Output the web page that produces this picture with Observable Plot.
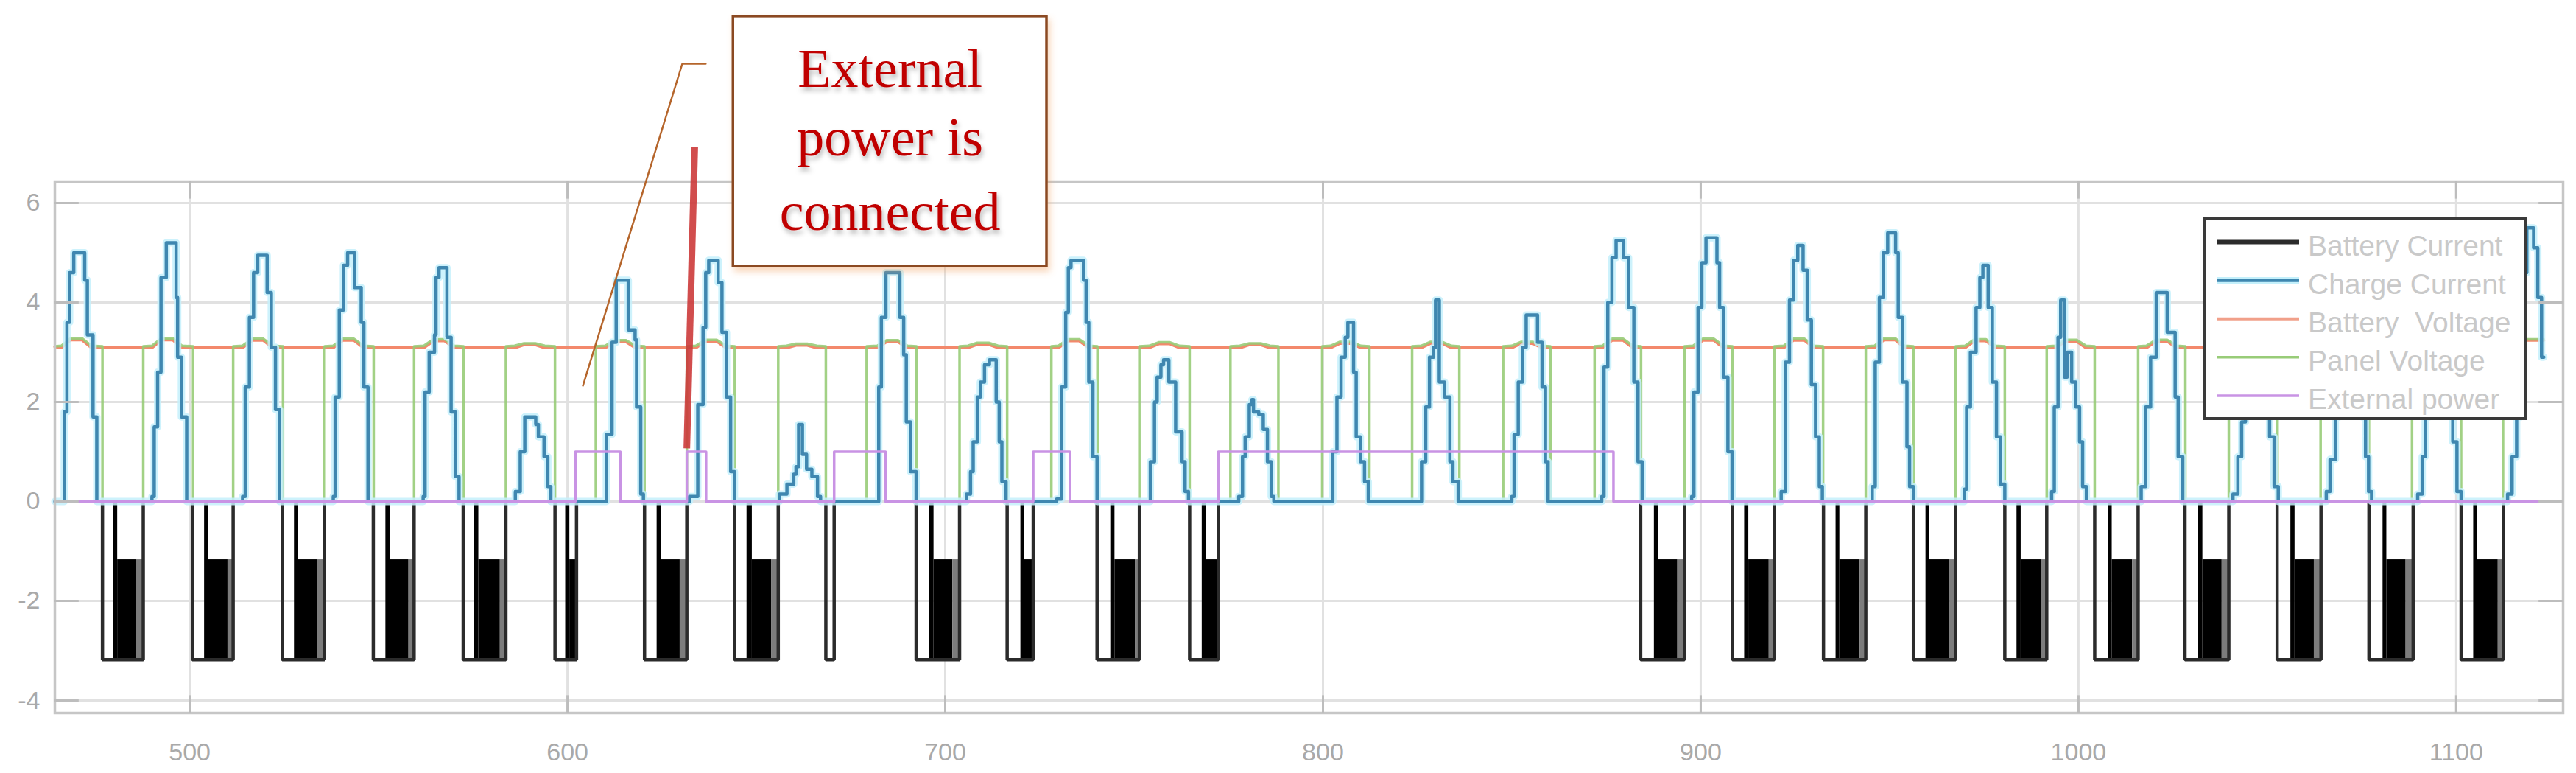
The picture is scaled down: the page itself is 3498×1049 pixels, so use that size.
<!DOCTYPE html>
<html>
<head>
<meta charset="utf-8">
<script src="https://cdn.jsdelivr.net/npm/d3@7"></script>
<script src="https://cdn.jsdelivr.net/npm/@observablehq/plot@0.6"></script>
<style>
  html, body { margin: 0; padding: 0; background: #fff; }
  #chart svg { display: block; }
</style>
</head>
<body>
<div id="chart"></div>
<script>
// ---------------- DATA (hours on x, values on y) ----------------
const xTicks = [500, 600, 700, 800, 900, 1000, 1100];
const yTicks = [-4, -2, 0, 2, 4, 6];
const seriesNames = ["Battery Current", "Charge Current", "Battery  Voltage", "Panel Voltage", "External power"];
const timeStart = 464.3;
const timeEnd = 1123.2;

// Charge current: per day, [hour, value] step points
const chargeCurrentDays = [
  [[466.8,1.8],[467.5,3.6],[468.2,4.6],[469.3,5.0],[472.2,4.45],[472.9,3.35],[474.4,1.7],[475.4,0]],
  [[490.0,0.1],[490.6,1.5],[491.5,2.6],[492.4,4.5],[493.8,5.2],[496.4,4.1],[496.8,2.9],[497.8,1.7],[499.2,0]],
  [[514.0,0.1],[514.7,2.3],[515.8,3.7],[516.9,4.6],[518.0,4.95],[520.5,4.2],[521.6,3.1],[522.7,1.85],[523.8,0]],
  [[538.0,0.1],[538.5,2.1],[539.6,3.85],[540.7,4.75],[541.8,5.0],[543.6,4.3],[545.4,3.6],[546.1,2.3],[547.2,0]],
  [[561.8,0.1],[562.3,2.2],[563.4,3.0],[564.8,3.35],[565.2,4.5],[566.0,4.7],[568.1,3.3],[569.2,1.8],[570.3,0.5],[571.3,0]],
  [[586.2,0.2],[587.5,1.0],[588.7,1.7],[591.6,1.55],[592.3,1.3],[593.8,0.9],[594.8,0.3],[595.6,0]],
  [[610.3,1.35],[611.8,3.2],[612.9,4.45],[616.1,3.45],[617.9,3.25],[618.3,1.9],[619.4,0.15],[620.1,0]],
  [[632.3,0.1],[634.5,1.95],[635.9,3.5],[636.6,4.6],[637.4,4.85],[639.9,4.4],[640.9,3.4],[642.1,2.1],[643.2,0.6],[644.2,0]],
  [[656.1,0.15],[658.1,0.35],[659.9,0.55],[660.5,0.7],[661.2,1.55],[662.2,0.95],[663.3,0.65],[664.7,0.5],[666.2,0.1],[667.0,0]],
  [[682.4,2.3],[683.1,3.7],[684.3,4.6],[688.0,3.7],[689.0,2.95],[689.7,1.6],[690.8,0.6],[692.3,0]],
  [[705.6,0.15],[706.7,0.6],[707.4,1.2],[708.5,2.1],[709.3,2.4],[710.4,2.75],[711.7,2.85],[713.5,2.0],[714.3,1.2],[715.0,0.4],[716.1,0]],
  [[729.5,0.05],[730.8,2.3],[731.9,3.8],[732.6,4.7],[733.3,4.85],[736.6,4.45],[737.3,3.6],[738.0,2.4],[739.1,0.9],[740.2,0]],
  [[754.3,0.8],[755.4,2.0],[756.1,2.5],[757.1,2.75],[757.8,2.85],[759.2,2.4],[761.0,1.4],[762.7,0.8],[763.5,0.2],[764.4,0]],
  [[777.7,0.1],[778.7,0.9],[779.4,1.3],[780.5,1.95],[781.2,2.05],[781.6,1.8],[783.0,1.75],[784.2,1.45],[785.3,0.8],[786.3,0.1],[787.0,0]],
  [[802.6,1.0],[803.7,2.1],[804.8,2.9],[805.9,3.3],[806.6,3.6],[808.1,2.6],[808.8,1.3],[809.9,0.8],[811.0,0.4],[812.0,0]],
  [[826.1,0.8],[827.2,1.9],[828.2,2.9],[829.3,3.1],[829.8,4.05],[830.8,2.4],[832.2,2.1],[833.6,0.8],[834.4,0.4],[835.8,0]],
  [[850.0,0.1],[850.6,1.35],[851.7,2.4],[852.8,3.1],[853.8,3.75],[856.8,3.2],[858.0,2.3],[858.9,0.8],[859.6,0]],
  [[873.8,0.1],[874.4,2.7],[875.4,4.0],[876.5,4.9],[877.6,5.25],[879.6,4.9],[880.9,3.9],[882.3,2.4],[883.4,0.8],[884.5,0]],
  [[897.6,0.1],[898.2,2.2],[899.3,3.9],[900.3,4.8],[901.4,5.3],[904.3,4.8],[905.0,3.9],[906.0,2.5],[907.2,1.0],[908.3,0]],
  [[921.3,0.2],[922.4,2.8],[923.5,4.05],[924.6,4.85],[925.7,5.15],[927.1,4.65],[928.2,3.65],[929.3,2.35],[930.4,1.3],[931.4,0.3],[932.2,0]],
  [[945.4,0.3],[946.2,2.8],[947.3,4.1],[948.4,5.0],[949.5,5.4],[951.6,5.0],[952.3,3.7],[953.4,2.4],[954.6,1.1],[955.3,0.3],[956.3,0]],
  [[969.8,0.25],[970.4,1.9],[971.4,3.0],[972.9,3.9],[973.9,4.5],[974.7,4.75],[976.1,3.9],[977.2,2.4],[978.3,1.3],[979.4,0.35],[980.5,0]],
  [[992.9,0.2],[993.6,1.9],[994.6,3.3],[995.3,4.05],[996.3,2.5],[997.0,3.0],[998.2,2.4],[999.3,1.9],[1000.3,1.2],[1001.1,0.3],[1002.1,0]],
  [[1016.6,0.3],[1017.8,1.9],[1019.1,2.9],[1020.6,4.2],[1023.5,3.4],[1025.6,2.1],[1026.4,0.9],[1027.6,0]],
  [[1040.9,0.15],[1042.2,0.9],[1043.2,1.6],[1044.2,3.2],[1045.3,4.5],[1046.3,4.8],[1048.2,3.8],[1049.3,2.4],[1050.6,1.3],[1051.8,0.3],[1052.9,0]],
  [[1065.6,0.2],[1066.6,0.85],[1068.0,1.7],[1069.0,3.0],[1070.0,4.2],[1071.0,4.6],[1073.2,3.8],[1074.3,2.5],[1075.1,1.7],[1076.0,0.9],[1076.8,0.2],[1077.6,0]],
  [[1089.8,0.15],[1091.0,0.9],[1091.8,1.7],[1092.8,3.2],[1093.8,4.4],[1094.8,4.9],[1097.0,4.0],[1098.0,2.6],[1099.1,1.2],[1100.2,0.2],[1101.3,0]],
  [[1113.6,0.15],[1114.8,0.9],[1116.0,1.7],[1116.9,3.2],[1117.8,4.6],[1118.7,5.5],[1120.5,5.1],[1121.6,4.1],[1122.6,2.9],[1123.2,2.9]]
];

// Panel voltage: per day [switch-on hour, switch-off hour, hump centre hour, hump top value]
const panelBase = 3.12;
const panelDays = [
  [464.3,476.9,470,3.28],[487.7,500.9,494,3.28],[511.5,524.7,518,3.27],[535.7,548.7,542,3.27],
  [559.4,572.5,566,3.26],[583.7,596.7,590,3.18],[607.5,620.4,614,3.24],[631.6,644.3,638,3.25],
  [655.8,668.4,662,3.17],[679.2,692.4,686,3.24],[703.8,716.4,710,3.19],[728.1,740.3,734,3.26],
  [751.4,764.7,758,3.20],[775.5,788.2,782,3.18],[799.8,812.3,806,3.21],[823.6,836.1,830,3.21],
  [847.7,860.2,854,3.21],[871.9,884.2,878,3.27],[895.7,908.4,902,3.27],[919.5,932.4,926,3.27],
  [943.7,956.3,950,3.28],[967.5,980.5,974,3.26],[991.6,1004.3,998,3.25],[1015.8,1028.3,1022,3.25],
  [1039.8,1052.7,1046,3.26],[1064.1,1076.9,1070,3.26],[1088.3,1101.3,1094,3.26],[1112.4,1123.2,1120,3.26]
];

// Battery voltage: night level and daily hump top
const batteryVoltageBase = 3.09;
const batteryVoltageTop = [3.25,3.25,3.24,3.24,3.23,3.15,3.21,3.22,3.14,3.21,3.16,3.23,3.17,3.15,3.18,3.18,
                           3.18,3.24,3.24,3.24,3.25,3.23,3.22,3.22,3.23,3.23,3.23,3.24];

// External power: step points [hour, value]
const externalPower = [[464.3,0],[602.1,1],[614.0,0],[631.6,1],[636.7,0],[670.6,1],[684.2,0],
                       [723.3,1],[733.0,0],[772.3,1],[876.9,0],[1122.6,0]];

// Battery current: per night [start, burst start, PWM start, PWM end, end]
const dischargeLevel = -3.18;
const pwmLevel = -1.17;
const batteryNights = [
  [476.9,479.8,480.9,485.9,487.7],[500.7,503.9,505.0,510.1,511.5],[524.5,527.7,528.8,533.9,535.7],
  [548.6,551.9,553.0,558.0,559.4],[572.4,575.4,576.5,582.2,583.7],[596.7,599.5,600.6,602.4,602.4],
  [620.4,623.7,624.8,629.8,631.6],[644.2,647.5,648.9,654.0,655.8],[668.4,null,null,null,670.6],
  [692.3,695.9,697.0,702.0,703.8],[716.4,720.0,721.0,723.3,723.3],[740.2,743.8,744.9,750.3,751.4],
  [764.7,768.0,769.1,772.3,772.3],[884.1,887.7,888.8,893.9,895.7],[908.4,911.6,912.7,918.1,919.5],
  [932.5,935.8,936.8,942.2,943.7],[956.3,959.6,960.6,966.0,967.5],[980.5,983.7,984.8,990.2,991.6],
  [1004.3,1007.9,1008.9,1014.3,1015.8],[1028.2,1031.8,1032.9,1038.0,1039.8],[1052.6,1056.2,1057.3,1062.4,1064.2],
  [1076.9,1080.6,1081.6,1086.7,1088.6],[1101.3,1104.6,1105.6,1111.1,1112.5]
];

// Annotation (data coordinates)
const annotationLines = [
  {text: "External", x: 685.4, y: 8.34},
  {text: "power is", x: 685.4, y: 6.95},
  {text: "connected", x: 685.4, y: 5.46}
];
const annotationBox = [{x1: 643.9, x2: 726.9, y1: 4.73, y2: 9.75}];
const leaderLine = [[636.6, 8.80], [630.4, 8.80], [604.1, 2.33]];
const connectMarker = [[633.7, 7.13], [631.6, 1.07]];

// ---------------- BUILD SERIES ----------------
const xDomain = [464.3, 1128.3];
const yDomain = [-4.25, 6.43];

const chargePts = [[timeStart, 0]];
chargeCurrentDays.forEach(day => day.forEach(p => chargePts.push(p)));

const panelPts = [];
panelDays.forEach(([rise, drop, c, top], i) => {
  const last = i === panelDays.length - 1;
  if (i > 0) panelPts.push([rise, 0]);
  panelPts.push([rise, panelBase]);
  [[c - 4, panelBase + 0.01], [c - 1.5, top], [c + 1.5, top], [c + 4, panelBase + 0.01]]
    .forEach(p => { if (p[0] > rise && p[0] < drop) panelPts.push(p); });
  if (!last) panelPts.push([drop, panelBase], [drop, 0]);
  else panelPts.push([drop, top]);
});

const batteryVPts = [[timeStart, batteryVoltageBase + 0.02]];
panelDays.forEach(([rise, drop, c], i) => {
  const top = batteryVoltageTop[i];
  [[c - 4, batteryVoltageBase], [c - 1.5, top], [c + 1.5, top], [c + 4, batteryVoltageBase]]
    .forEach(p => { if (p[0] > timeStart && p[0] < timeEnd) batteryVPts.push(p); });
});
batteryVPts.push([timeEnd, batteryVoltageTop[batteryVoltageTop.length - 1]]);

// battery current outline: one path per night
const batteryPts = [];
batteryNights.forEach(([d, , , , e], i) => {
  batteryPts.push({t: d, v: 0, n: i}, {t: d, v: dischargeLevel, n: i}, {t: e, v: dischargeLevel, n: i}, {t: e, v: 0, n: i});
});

const bursts = batteryNights.filter(n => n[1] != null).map(n => ({x1: n[1], x2: n[2], y1: 0, y2: dischargeLevel}));
const pwmBlocks = batteryNights.filter(n => n[1] != null).map(n => ({x1: n[2], x2: n[3], y1: pwmLevel, y2: dischargeLevel}));
const pwmTails = batteryNights.filter(n => n[1] != null && n[4] > n[3]).map(n => ({x1: n[3], x2: n[4], y1: pwmLevel, y2: dischargeLevel}));

const colors = {
  battery: "#2b2b2b",
  charge: "#3f87b0",
  chargeHalo: "#c4f0fb",
  bvolt: "#f3896c",
  panel: "#98cc78",
  ext: "#c993e4"
};

const X = d => d[0], Y = d => d[1];

const chart = Plot.plot({
  width: 3498,
  height: 1049,
  marginLeft: 74,
  marginRight: 18,
  marginTop: 246,
  marginBottom: 82,
  style: {fontFamily: "Liberation Sans, Arial, sans-serif", fontSize: "34px", color: "#a9a9a9", background: "#fff", overflow: "visible"},
  x: {domain: xDomain, ticks: xTicks, tickSize: 0, tickPadding: 40, tickFormat: d => String(d), label: null},
  y: {domain: yDomain, ticks: yTicks, tickSize: 0, tickPadding: 20, tickFormat: d => String(d), label: null},
  marks: [
    Plot.ruleX(xTicks, {stroke: "#e1e1e1", strokeWidth: 3}),
    Plot.ruleY(yTicks, {stroke: "#e1e1e1", strokeWidth: 3}),
    // battery current (PWM bursts drawn as filled bands)
    Plot.rect(bursts, {x1: "x1", x2: "x2", y1: "y1", y2: "y2", fill: "#000"}),
    Plot.rect(pwmBlocks, {x1: "x1", x2: "x2", y1: "y1", y2: "y2", fill: "#000"}),
    Plot.rect(pwmTails, {x1: "x1", x2: "x2", y1: "y1", y2: "y2", fill: "#7c7c7c"}),
    Plot.line(batteryPts, {x: "t", y: "v", z: "n", stroke: colors.battery, strokeWidth: 4.5, strokeLinejoin: "miter"}),
    // battery voltage
    Plot.line(batteryVPts, {x: X, y: Y, stroke: colors.bvolt, strokeWidth: 4}),
    // panel voltage
    Plot.line(panelPts, {x: X, y: Y, stroke: colors.panel, strokeWidth: 3.5, strokeOpacity: 0.9}),
    // charge current
    Plot.line(chargePts, {x: X, y: Y, curve: "step-after", stroke: colors.chargeHalo, strokeWidth: 10, strokeOpacity: 0.85}),
    Plot.line(chargePts, {x: X, y: Y, curve: "step-after", stroke: colors.charge, strokeWidth: 4.5}),
    // external power
    Plot.line(externalPower, {x: X, y: Y, curve: "step-after", stroke: colors.ext, strokeWidth: 3.5}),
    // frame and inner ticks
    Plot.frame({stroke: "#c6c6c6", strokeWidth: 3.5}),
    Plot.ruleY(yTicks, {x1: xDomain[0], x2: xDomain[0] + 6.4, stroke: "#bdbdbd", strokeWidth: 3}),
    Plot.ruleY(yTicks, {x1: xDomain[1] - 6.4, x2: xDomain[1], stroke: "#bdbdbd", strokeWidth: 3}),
    Plot.ruleX(xTicks, {y1: yDomain[0], y2: yDomain[0] + 0.35, stroke: "#bdbdbd", strokeWidth: 3}),
    Plot.ruleX(xTicks, {y1: yDomain[1] - 0.35, y2: yDomain[1], stroke: "#bdbdbd", strokeWidth: 3}),
    // annotation
    Plot.line(leaderLine, {x: X, y: Y, stroke: "#b5652b", strokeWidth: 2.5}),
    Plot.line(connectMarker, {x: X, y: Y, stroke: "#cc3a3a", strokeWidth: 9, strokeOpacity: 0.9, strokeLinecap: "butt"}),
    Plot.rect(annotationBox, {x1: "x1", x2: "x2", y1: "y1", y2: "y2", fill: "#fff", stroke: "#8b4a22", strokeWidth: 3.5}),
    Plot.text(annotationLines, {x: "x", y: "y", text: "text", fill: "#c00000", fontSize: 74,
      fontFamily: "Liberation Serif, Times New Roman, serif", textAnchor: "middle", lineAnchor: "bottom"})
  ]
});

document.getElementById("chart").append(chart);

// ---------------- decorations: shadows + legend ----------------
const svg = d3.select(chart);
const defs = svg.append("defs");
defs.append("filter").attr("id", "txtShadow").attr("x", "-10%").attr("y", "-30%").attr("width", "130%").attr("height", "180%")
  .append("feDropShadow").attr("dx", 2).attr("dy", 5).attr("stdDeviation", 3)
  .attr("flood-color", "#000").attr("flood-opacity", 0.28);
defs.append("filter").attr("id", "boxShadow").attr("x", "-10%").attr("y", "-10%").attr("width", "125%").attr("height", "125%")
  .append("feDropShadow").attr("dx", 3).attr("dy", 6).attr("stdDeviation", 5)
  .attr("flood-color", "#f0a060").attr("flood-opacity", 0.45);
svg.selectAll('g[fill="#c00000"]').attr("filter", "url(#txtShadow)");
svg.selectAll('g[stroke="#8b4a22"]').attr("filter", "url(#boxShadow)");

const legendColors = [colors.battery, colors.charge, "#f1a08a", colors.panel, colors.ext];
const legendWidths = [6, 4.5, 4, 3.5, 3.5];
const lg = svg.append("g").attr("text-anchor", "start");
lg.append("rect").attr("x", 2994).attr("y", 297).attr("width", 436).attr("height", 271)
  .attr("fill", "#fff").attr("stroke", "#3a3a3a").attr("stroke-width", 4);
seriesNames.forEach((name, i) => {
  const ly = 328.5 + i * 52.1;
  if (i === 1) {
    lg.append("line").attr("x1", 3010).attr("x2", 3122).attr("y1", ly).attr("y2", ly)
      .attr("stroke", colors.chargeHalo).attr("stroke-width", 9);
  }
  lg.append("line").attr("x1", 3010).attr("x2", 3122).attr("y1", ly).attr("y2", ly)
    .attr("stroke", legendColors[i]).attr("stroke-width", legendWidths[i]);
  lg.append("text").attr("x", 3134).attr("y", ly + 18).text(name)
    .attr("text-anchor", "start")
    .attr("fill", "#c9c9c9").attr("font-size", 39)
    .attr("font-family", "Liberation Sans, Arial, sans-serif")
    .style("white-space", "pre");
});
</script>
</body>
</html>
